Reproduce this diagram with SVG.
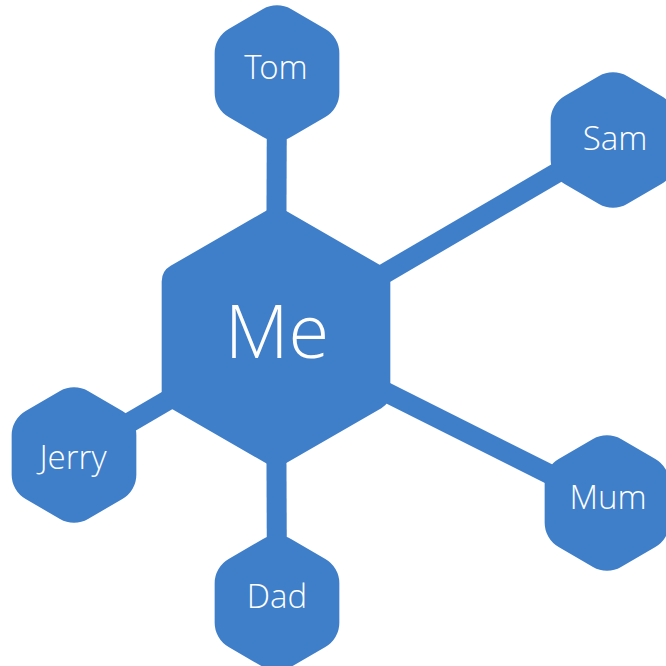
<svg xmlns="http://www.w3.org/2000/svg" width="666" height="666" viewBox="0 0 666 666">
<defs>
<style>
.hex{fill:#3f7fca;}
.conn{stroke:#3f7fca;stroke-width:20;fill:none;}
.lbl{fill:#ffffff;font-family:"Open Sans Light","Open Sans","Noto Sans","DejaVu Sans",sans-serif;font-weight:300;text-anchor:middle;font-size:33px;}
.big{font-size:74px;}
</style>
<path id="sh" d="M -14,-63.92 A28,28 0 0 1 14,-63.92 L 48.35,-44.08 A28,28 0 0 1 62.35,-19.83 L 62.35,19.83 A28,28 0 0 1 48.35,44.08 L 14,63.92 A28,28 0 0 1 -14,63.92 L -48.35,44.08 A28,28 0 0 1 -62.35,19.83 L -62.35,-19.83 A28,28 0 0 1 -48.35,-44.08 Z"/>
<path id="bh" d="M -9,-126.8 A18,18 0 0 1 9,-126.8 L 105.32,-71.2 A18,18 0 0 1 114.32,-55.61 L 114.32,55.61 A18,18 0 0 1 105.32,71.2 L 9,126.8 A18,18 0 0 1 -9,126.8 L -105.32,71.2 A18,18 0 0 1 -114.32,55.61 L -114.32,-55.61 A18,18 0 0 1 -105.32,-71.2 Z"/>
</defs>
<rect width="666" height="666" fill="#ffffff"/>
<g id="connectors">
<line class="conn" x1="276" y1="337" x2="277" y2="73"/>
<line class="conn" x1="276" y1="337" x2="613" y2="140"/>
<line class="conn" x1="276" y1="337" x2="607" y2="503"/>
<line class="conn" x1="276" y1="337" x2="277" y2="603"/>
<line class="conn" x1="276" y1="337" x2="74" y2="455"/>
</g>
<g id="me">
<use href="#bh" class="hex" transform="translate(276,337)"/>
<text class="lbl big" x="277" y="358">Me</text>
</g>
<g id="tom">
<use href="#sh" class="hex" transform="translate(277,73)"/>
<text class="lbl" x="276" y="79">Tom</text>
</g>
<g id="sam">
<use href="#sh" class="hex" transform="translate(613,140)"/>
<text class="lbl" x="615" y="150">Sam</text>
</g>
<g id="mum">
<use href="#sh" class="hex" transform="translate(607,503)"/>
<text class="lbl" x="608" y="509">Mum</text>
</g>
<g id="dad">
<use href="#sh" class="hex" transform="translate(277,603)"/>
<text class="lbl" x="277" y="608">Dad</text>
</g>
<g id="jerry">
<use href="#sh" class="hex" transform="translate(74,455)"/>
<text class="lbl" x="73" y="469">Jerry</text>
</g>
</svg>
